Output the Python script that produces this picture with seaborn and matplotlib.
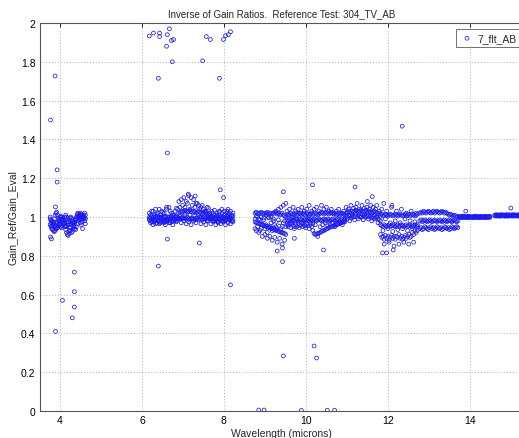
import numpy as np
import pandas as pd
import matplotlib
matplotlib.use("Agg")
import matplotlib.pyplot as plt
import seaborn as sns
from matplotlib.ticker import FormatStrFormatter

# ---------------- data ----------------
# Segment 1 (3.76 - 4.62 microns)
x1 = [3.76,3.78,3.80,3.82,3.84,3.86,3.88,3.90,3.92,3.94,3.96,3.98,4.00,4.02,4.04,4.06,4.08,4.10,4.12,4.14,4.16,4.18,
      4.20,4.22,4.24,4.26,4.28,4.30,4.32,4.34,4.36,4.38,4.40,4.42,4.44,4.46,4.48,4.50,4.52,4.54,4.56,4.58,4.60,4.62]
y1a = [0.99,0.985,0.98,0.975,0.97,0.965,0.955,0.95,0.94,0.945,0.955,0.965,0.975,0.985,0.99,0.985,0.975,0.965,0.955,0.95,0.955,0.965,
       0.975,0.985,0.995,1.0,0.995,0.985,0.975,0.97,0.975,0.985,0.99,1.0,1.005,1.0,0.995,1.0,1.005,1.0,0.995,1.0,0.995,0.99]
y1b = [0.96,0.95,0.94,0.935,0.93,0.925,0.93,0.94,0.955,0.97,0.98,0.99,1.0,1.005,1.0,0.99,0.98,0.965,0.95,0.935,0.92,0.91,
       0.905,0.915,0.93,0.945,0.96,0.97,0.965,0.95,0.94,0.935,0.95,0.965,0.98,0.99,1.01,1.02,1.015,1.01,1.0,1.01,1.02,1.01]
y1c = [1.0,0.97,0.955,0.96,0.975,0.99,1.01,1.02,1.025,1.01,0.995,0.98,0.96,0.95,0.945,0.955,0.97,0.985,1.0,1.01,1.0,0.99,
       0.975,0.96,0.945,0.93,0.92,0.925,0.94,0.955,0.97,0.985,1.0,1.015,1.02,1.01,0.985,0.97,0.96,0.975,0.99,1.0,0.98,0.965]
x1_out = [3.77,3.88,3.93,3.93,3.89,3.77,3.79,3.89,4.06,4.30,4.35,4.35,4.35,4.55]
y1_out = [1.50,1.727,1.243,1.18,1.052,0.897,0.887,0.41,0.57,0.48,0.536,0.615,0.716,0.94]

# Segment 2 (6.18 - 8.22 microns)
x2 = [6.18,6.21,6.24,6.27,6.30,6.33,6.36,6.39,6.42,6.45,6.48,6.51,6.54,6.57,6.60,6.63,6.66,6.69,6.72,6.75,6.78,6.81,6.84,6.87,
      6.90,6.93,6.96,6.99,7.02,7.05,7.08,7.11,7.14,7.17,7.20,7.23,7.26,7.29,7.32,7.35,7.38,7.41,7.44,7.47,7.50,7.53,7.56,7.59,
      7.62,7.65,7.68,7.71,7.74,7.77,7.80,7.83,7.86,7.89,7.92,7.95,7.98,8.01,8.04,8.07,8.10,8.13,8.16,8.19,8.22]
y2a = [1.0,0.995,1.005,1.0,0.99,1.0,1.005,0.995,1.0,1.01,1.0,0.995,1.0,1.005,0.99,1.0,1.0,0.995,1.005,1.0,0.99,1.0,1.005,1.0,
       0.995,0.99,0.995,1.0,0.99,0.995,0.99,0.995,0.99,0.985,0.99,0.995,0.99,0.985,0.99,0.995,0.99,0.995,1.0,0.99,0.995,1.0,
       0.995,0.99,1.0,0.995,1.0,1.005,1.0,0.995,1.0,1.005,1.0,0.995,1.0,1.005,1.0,0.995,1.0,1.005,1.01,1.0,0.995,1.0,1.005]
y2b = [0.985,0.98,0.99,0.985,0.975,0.98,0.99,0.985,0.98,0.975,0.985,0.99,0.98,0.975,0.985,0.98,0.99,0.985,0.975,0.98,0.99,0.985,0.98,0.99,
       1.02,1.025,1.03,1.025,1.03,1.035,1.03,1.025,1.03,1.035,1.03,1.025,1.03,1.025,1.02,1.025,1.03,1.025,1.02,1.015,1.02,1.025,1.02,1.015,1.01,1.015,
       0.99,0.985,0.98,0.99,0.985,0.98,0.99,0.995,0.985,0.98,0.99,0.985,0.98,0.99,0.995,0.985,0.99,0.98,0.985]
y2c = [1.02,0.97,1.03,0.96,1.01,1.04,0.97,1.02,0.965,1.0,1.03,0.975,1.02,0.96,1.04,0.98,1.05,0.97,1.02,0.96,
       1.01,1.03,0.975,1.04,0.99,1.05,0.97,1.06,0.98,1.05,0.965,1.07,0.975,1.04,0.96,1.06,0.98,1.05,0.97,1.07,
       0.985,1.04,0.965,1.06,0.975,1.03,0.96,1.05,0.98,1.02,0.965,1.03,0.975,1.01,0.96,1.02,0.97,1.03,0.965,1.02,
       0.975,1.01,0.96,1.03,0.97,1.02,0.965,1.01,0.975]
y2d = [0.99,1.01,0.975,1.03,0.985,0.965,1.015,0.98,1.04,0.97,0.995,1.025,0.97,1.0,1.05,0.985,0.97,1.03,0.99,1.01,
       0.98,1.0,1.045,0.99,1.08,1.01,1.09,0.995,1.1,1.02,1.08,1.0,1.11,1.01,1.1,0.99,1.09,1.01,1.07,0.995,
       1.06,1.0,1.05,0.985,1.04,0.99,1.03,0.98,1.045,0.99,1.0,1.02,0.98,1.035,0.99,1.01,0.975,1.025,0.99,1.04,
       0.98,1.03,0.985,1.02,1.04,0.99,1.03,0.98,1.02]
x2_out = [6.18,6.28,6.43,6.43,6.60,6.62,6.67,6.72,6.77,6.74,6.40,6.62,7.57,7.67,7.48,7.89,7.99,8.04,8.11,8.16,
          7.91,7.99,6.40,6.62,7.40,8.16,7.13,7.30]
y2_out = [1.933,1.948,1.948,1.93,1.88,1.94,1.97,1.91,1.915,1.80,1.715,1.33,1.93,1.915,1.805,1.715,1.915,1.935,1.94,1.955,
          1.14,1.10,0.747,0.886,0.866,0.65,1.118,1.108]

# Segment 3a (8.76 - 9.51)
x3a = [8.76,8.79,8.82,8.85,8.88,8.91,8.94,8.97,9.00,9.03,9.06,9.09,9.12,9.15,9.18,9.21,9.24,9.27,9.30,9.33,9.36,9.39,9.42,9.45,9.48,9.51]
y3a_up = [1.02,1.025,1.02,1.015,1.02,1.025,1.02,1.015,1.02,1.02,1.025,1.015,1.02,1.02,1.015,1.02,1.025,1.02,1.015,1.02,1.01,1.015,1.02,1.01,1.005,1.0]
y3a_low = [0.975,0.97,0.972,0.966,0.965,0.96,0.962,0.956,0.955,0.95,0.952,0.946,0.945,0.94,0.942,0.936,0.935,0.93,0.932,0.926,0.925,0.92,0.922,0.916,0.915,0.91]
y3a_s1 = [0.99,0.93,1.0,0.92,0.985,0.94,0.9,0.995,0.91,0.96,0.89,1.0,0.9,0.97,0.88,0.99,0.895,0.95,0.87,0.985,0.89,0.94,0.86,0.97,0.88,0.95]
y3a_s2 = [0.94,1.005,0.95,0.99,0.93,1.0,0.96,0.985,0.94,1.01,0.92,0.995,0.95,1.0,0.93,0.98,0.96,1.03,0.94,1.04,0.97,1.05,0.95,1.06,0.98,1.07]
x3a_out = [9.45,9.30,9.43,9.43,9.45,8.85,8.98,9.72,9.89]
y3a_out = [1.13,0.825,0.84,0.77,0.284,0.005,0.005,0.89,0.003]

# Segment 3b (9.54 - 10.95)
x3b = [9.54,9.57,9.60,9.63,9.66,9.69,9.72,9.75,9.78,9.81,9.84,9.87,9.90,9.93,9.96,9.99,10.02,10.05,10.08,10.11,10.14,10.17,
       10.20,10.23,10.26,10.29,10.32,10.35,10.38,10.41,10.44,10.47,10.50,10.53,10.56,10.59,10.62,10.65,10.68,10.71,10.74,10.77,
       10.80,10.83,10.86,10.89,10.92,10.95]
y3b_mid = [0.985,0.98,0.985,0.99,0.98,0.985,0.98,0.99,0.985,0.98,0.985,0.99,0.985,0.98,0.985,0.99,0.985,0.98,0.99,0.985,
           0.98,0.985,0.99,0.985,0.98,0.985,0.99,0.985,0.98,0.985,0.99,0.985,0.98,0.99,0.985,0.98,0.985,0.99,0.985,0.98,
           0.985,0.99,0.985,0.98,0.99,0.985,0.98,0.985]
y3b_up = [1.01,1.015,1.01,1.02,1.015,1.01,1.015,1.02,1.01,1.015,1.02,1.015,1.01,1.02,1.015,1.01,1.02,1.015,1.01,1.015,
          1.02,1.01,1.015,1.02,1.015,1.01,1.015,1.02,1.025,1.02,1.015,1.02,1.025,1.02,1.015,1.02,1.025,1.02,1.015,1.02,
          1.01,1.015,1.02,1.01,1.015,1.02,1.015,1.01]
y3b_low = [0.96,0.95,0.965,0.945,0.97,0.955,0.94,0.96,0.95,0.965,0.945,0.955,0.97,0.95,0.96,0.945,0.965,0.955,0.94,0.96,0.95,0.965,
           0.915,0.91,0.912,0.915,0.918,0.92,0.925,0.928,0.93,0.935,0.938,0.94,0.945,0.948,0.95,0.952,0.955,0.958,0.96,0.962,
           0.965,0.967,0.97,0.972,0.975,0.975]
y3b_s = [1.03,0.96,1.04,0.97,1.0,1.05,0.95,1.03,0.99,1.04,0.96,1.02,1.05,0.97,1.03,0.955,1.04,0.99,1.06,0.97,
         1.03,0.93,1.04,0.96,1.05,0.9,1.03,0.95,1.06,0.96,1.04,0.97,1.05,0.955,1.03,0.96,1.04,0.97,1.02,0.95,
         1.03,0.965,1.04,0.97,1.02,0.96,1.03,0.99]
x3b_out = [10.16,10.20,10.26,10.52,10.70,10.43]
y3b_out = [1.166,0.335,0.273,0.004,0.004,0.83]

# Segment 3c (10.98 - 11.79)
x3c = [10.98,11.01,11.04,11.07,11.10,11.13,11.16,11.19,11.22,11.25,11.28,11.31,11.34,11.37,11.40,11.43,11.46,11.49,
       11.52,11.55,11.58,11.61,11.64,11.67,11.70,11.73,11.76,11.79]
y3c_a = [1.02,1.025,1.03,1.025,1.02,1.03,1.025,1.03,1.035,1.03,1.025,1.03,1.035,1.03,1.025,1.03,1.035,1.03,1.025,1.03,
         1.025,1.02,1.025,1.03,1.025,1.02,1.015,1.02]
y3c_b = [1.005,1.0,1.01,1.005,0.995,1.01,1.0,1.005,1.015,1.0,1.01,1.005,1.0,1.015,1.005,1.01,1.0,1.005,1.01,1.0,
         1.005,0.995,1.0,1.01,0.995,1.0,0.99,0.985]
y3c_s = [1.05,0.99,1.04,0.98,1.06,1.0,1.045,0.985,1.05,1.07,0.99,1.04,1.0,1.06,0.985,1.045,1.0,1.05,0.99,1.04,
         1.06,0.98,1.05,0.99,1.04,1.06,0.97,1.03]
x3c_out = [11.20,11.62,11.50]
y3c_out = [1.155,1.105,1.08]

# Segment 3d (11.82 - 12.72)
x3d = [11.82,11.85,11.88,11.91,11.94,11.97,12.00,12.03,12.06,12.09,12.12,12.15,12.18,12.21,12.24,12.27,12.30,12.33,
       12.36,12.39,12.42,12.45,12.48,12.51,12.54,12.57,12.60,12.63,12.66,12.69,12.72]
y3d_a = [1.01,1.015,1.005,1.01,1.015,1.01,1.005,1.01,1.015,1.01,1.005,1.01,1.015,1.01,1.005,1.01,1.015,1.01,1.005,1.01,
         1.015,1.005,1.01,1.015,1.005,1.01,1.015,1.01,1.005,1.01,1.015]
y3d_b = [0.96,0.955,0.95,0.96,0.955,0.95,0.955,0.96,0.95,0.955,0.96,0.955,0.95,0.955,0.96,0.95,0.955,0.96,0.955,0.95,
         0.955,0.96,0.95,0.955,0.96,0.955,0.95,0.955,0.96,0.955,0.95]
y3d_c = [0.91,0.895,0.9,0.885,0.905,0.89,0.9,0.88,0.895,0.905,0.89,0.9,0.885,0.9,0.895,0.91,0.89,0.9,0.885,0.895,
         0.905,0.89,0.9,0.91,0.895,0.9,0.92,0.91,0.93,0.92,0.93]
y3d_s = [0.98,1.04,0.93,0.86,0.99,1.03,0.94,0.87,0.97,1.05,0.925,0.85,0.98,1.03,0.935,0.86,0.97,1.04,0.94,0.87,
         0.99,1.02,0.93,0.86,0.98,1.03,0.94,0.87,0.975,1.02,0.96]
x3d_out = [11.87,11.97,12.13,12.35,12.10,11.90]
y3d_out = [0.815,0.815,0.83,1.468,1.06,1.07]

# Segment 3e (12.78 - 13.71)
x3e = [12.78,12.81,12.84,12.87,12.90,12.93,12.96,12.99,13.02,13.05,13.08,13.11,13.14,13.17,13.20,13.23,13.26,13.29,
       13.32,13.35,13.38,13.41,13.44,13.47,13.50,13.53,13.56,13.59,13.62,13.65,13.68,13.71]
y3e_a = [1.02,1.025,1.02,1.03,1.025,1.02,1.025,1.03,1.025,1.02,1.025,1.03,1.02,1.025,1.03,1.025,1.02,1.025,1.03,1.025,
         1.02,1.025,1.02,1.015,1.01,1.015,1.01,1.005,1.01,1.005,1.0,1.005]
y3e_b = [0.98,0.985,0.975,0.98,0.985,0.98,0.975,0.98,0.985,0.98,0.975,0.98,0.985,0.98,0.975,0.98,0.985,0.98,0.975,0.98,
         0.985,0.98,0.975,0.98,0.985,0.98,0.975,0.98,0.985,0.98,0.975,0.98]
y3e_c = [0.94,0.945,0.935,0.94,0.95,0.945,0.94,0.935,0.945,0.95,0.94,0.945,0.935,0.94,0.95,0.945,0.94,0.945,0.935,0.94,
         0.95,0.945,0.94,0.945,0.935,0.94,0.95,0.945,0.94,0.945,0.95,0.945]

# Segment 3f (13.74 - 15.24)
x3f = [13.74,13.77,13.80,13.83,13.86,13.89,13.92,13.95,13.98,14.01,14.04,14.07,14.10,14.13,14.16,14.19,14.22,14.25,
       14.28,14.31,14.34,14.37,14.40,14.43,14.46,14.49,14.61,14.64,14.67,14.70,14.73,14.76,14.79,
       14.82,14.85,14.88,14.91,14.94,14.97,15.00,15.03,15.06,15.09,15.12,15.15,15.18,15.21,15.24]
y3f_a = [1.002,1.0,1.003,1.005,1.003,1.0,1.002,1.004,1.003,1.0,1.002,1.0,1.003,1.005,1.003,1.0,1.002,1.004,
         1.003,1.0,1.002,1.004,1.003,1.0,1.002,1.004,1.01,1.012,1.01,1.008,1.012,1.01,1.012,
         1.01,1.008,1.012,1.01,1.012,1.01,1.008,1.012,1.01,1.012,1.01,1.008,1.012,1.01,1.012]
y3f_b = [0.998,0.996,0.999,0.997,1.0,0.998,0.996,0.999,0.997,1.0,0.998,0.996,0.999,0.997,1.0,0.998,0.996,0.999,
         0.997,1.0,0.998,0.996,0.999,0.997,1.0,0.998,1.006,1.004,1.007,1.005,1.004,1.006,1.005,
         1.007,1.004,1.006,1.005,1.004,1.007,1.005,1.006,1.004,1.007,1.005,1.006,1.004,1.005,1.007]
x3f_out = [15.00,13.90]
y3f_out = [1.046,1.03]

x_ticks = [4, 6, 8, 10, 12, 14]
y_ticks = [0, 0.2, 0.4, 0.6, 0.8, 1, 1.2, 1.4, 1.6, 1.8, 2]
series_label = "7_flt_AB"
title_text = "Inverse of Gain Ratios.  Reference Test: 304_TV_AB"
x_label = "Wavelength (microns)"
y_label = "Gain_Ref/Gain_Eval"

# ---------------- assemble ----------------
groups = [
    (x1, [y1a, y1b, y1c]), (x1_out, [y1_out]),
    (x2, [y2a, y2b, y2c, y2d]), (x2_out, [y2_out]),
    (x3a, [y3a_up, y3a_low, y3a_s1, y3a_s2]), (x3a_out, [y3a_out]),
    (x3b, [y3b_mid, y3b_up, y3b_low, y3b_s]), (x3b_out, [y3b_out]),
    (x3c, [y3c_a, y3c_b, y3c_s]), (x3c_out, [y3c_out]),
    (x3d, [y3d_a, y3d_b, y3d_c, y3d_s]), (x3d_out, [y3d_out]),
    (x3e, [y3e_a, y3e_b, y3e_c]),
    (x3f, [y3f_a, y3f_b]), (x3f_out, [y3f_out]),
]
xs, ys = [], []
for gx, gys in groups:
    for gy in gys:
        n = min(len(gx), len(gy))
        xs.extend(gx[:n]); ys.extend(gy[:n])
df = pd.DataFrame({"x": xs, "y": ys})

# ---------------- plot ----------------
sns.set_theme(style="white")
plt.rcParams["font.family"] = ["Liberation Sans", "DejaVu Sans"]

fig = plt.figure(figsize=(5.19, 4.39), dpi=100)
ax = fig.add_axes([39.5 / 519, 27 / 439, (519 - 39.5) / 519 + 0.01, 388 / 439])

sns.scatterplot(data=df, x="x", y="y", ax=ax, marker="o", s=7.5,
                facecolor="none", edgecolor="#1a1aee", linewidth=0.55, label=series_label)

ax.set_xlim(3.5, 15.2 + 0.01 * 519 / 41)
ax.set_ylim(0, 2)
ax.set_xticks(x_ticks)
ax.set_yticks(y_ticks)
ax.yaxis.set_major_formatter(FormatStrFormatter("%g"))
ax.grid(True, linestyle=(0, (1, 2)), color="#b0b0b0", linewidth=0.7)
ax.tick_params(direction="in", length=3, width=0.6, top=True, right=True,
               labelsize=7.5, colors="#000000", pad=3)
for sp in ax.spines.values():
    sp.set_color("#555555")
    sp.set_linewidth(0.8)

ax.set_title(title_text, fontsize=7, pad=5)
ax.set_xlabel(x_label, fontsize=7.5, labelpad=2)
ax.set_ylabel(y_label, fontsize=7.5, labelpad=2)

leg = ax.legend(loc="upper left", bbox_to_anchor=((452 - 39.5) / 480, 0.985), fontsize=7.5,
                frameon=True, fancybox=False, edgecolor="#333333", borderpad=0.4,
                handletextpad=0.4, handlelength=1.3, borderaxespad=0)
leg.get_frame().set_linewidth(0.6)

fig.savefig("out.png", dpi=100, facecolor="white")
